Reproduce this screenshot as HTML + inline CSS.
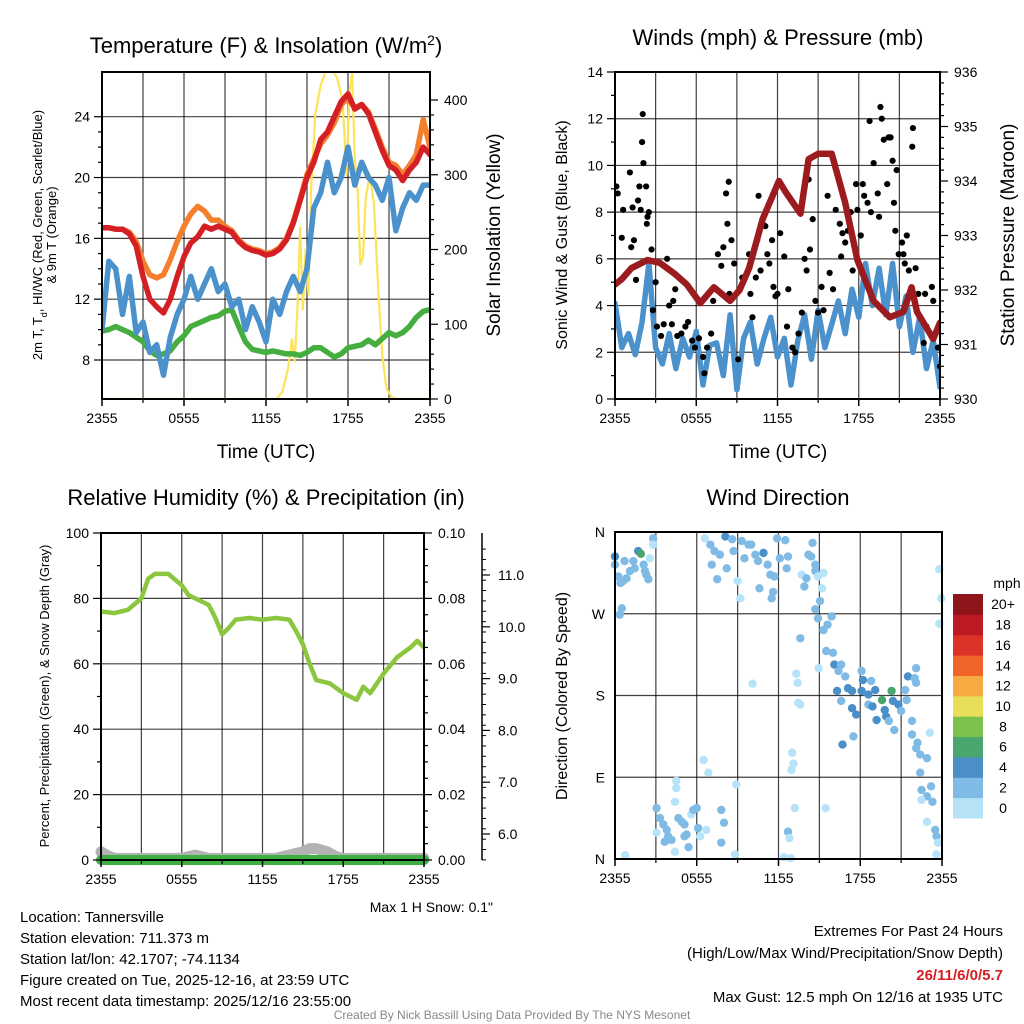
<!DOCTYPE html>
<html><head><meta charset="utf-8"><style>
body{margin:0;background:#fff;}
svg{display:block;font-family:"Liberation Sans",Arial,sans-serif;}
</style></head><body>
<svg id="c" width="1024" height="1024" viewBox="0 0 1024 1024"></svg>
<script>
// ---------- DATA ----------
const halfHours = [0,0.5,1,1.5,2,2.5,3,3.5,4,4.5,5,5.5,6,6.5,7,7.5,8,8.5,9,9.5,10,10.5,11,11.5,12,12.5,13,13.5,14,14.5,15,15.5,16,16.5,17,17.5,18,18.5,19,19.5,20,20.5,21,21.5,22,22.5,23,23.5,24];
const xTickLabels = ["2355","0555","1155","1755","2355"];
const tempRed = [16.7,16.7,16.6,16.6,16.3,15.5,13.5,12,11.5,11.1,12,13.5,14.8,15.7,16.1,16.8,16.6,16.8,16.6,16.4,15.8,15.4,15.2,15.1,14.9,15.0,15.3,15.9,17,18.5,20,21,22.5,23,24,25,25.5,24.5,24.8,24.2,23,21.8,20.8,20.5,19.8,20.5,21,22,21.5];
const temp9m = [16.7,16.7,16.6,16.6,16.4,15.8,14.5,13.6,13.4,13.6,14.6,15.8,16.8,17.6,18.1,17.8,17.2,17.2,16.8,16.5,15.9,15.5,15.3,15.2,15.0,15.1,15.4,16.0,17.1,18.6,20.2,21.2,22.2,22.8,23.6,24.8,25.2,24.6,24.8,24.3,23.2,22.0,21.0,20.8,20.2,20.8,21.5,23.8,22.0];
const feelsBlue = [10,14.5,14,11,13.5,9.8,10.5,8.5,9,7,9.5,11,12,13.5,12,13,14,12.5,13,11.5,12,10,11.5,10.5,9.2,12,11,12.5,13.5,12.5,14,18,19,21,19,20,22,19.5,21,20,19.5,18.5,20,16.5,18,19,18.5,19.5,19.5];
const dewGreen = [9.9,10,10.2,10,9.8,9.5,9.2,8.6,8.3,8.4,8.6,9.2,9.6,10.2,10.4,10.6,10.8,10.9,11.2,11.3,10.2,9.2,8.7,8.6,8.5,8.6,8.5,8.4,8.4,8.3,8.5,8.8,8.8,8.5,8.2,8.4,8.8,8.9,9.0,9.3,9.0,9.4,9.8,9.6,9.8,10.2,10.8,11.2,11.3];
const solarHours = [0,12.8,13.2,13.6,13.9,14.1,14.3,14.5,14.7,14.9,15.1,15.3,15.6,16,16.4,16.8,17.2,17.6,17.9,18.1,18.3,18.5,18.7,18.9,19.1,19.3,19.6,19.9,20.2,20.5,20.8,21.2,21.6,24];
const solarVals = [0,0,10,40,80,50,120,230,120,200,140,280,380,420,440,440,430,400,300,410,435,320,280,180,190,270,300,260,150,60,15,2,0,0];

const windBlue = [4.1,2.2,2.8,1.9,3.3,5.8,2.2,1.5,2.8,1.3,2.6,1.8,2.9,0.6,2.3,2.4,1,3.6,0.4,2.6,3.3,1.5,2.6,3.5,1.8,2.6,0.6,2.5,3.6,1.7,3.8,2.2,3.2,4.2,2.8,4.7,3.5,5.8,4,5.6,3.6,5.8,3.1,4.4,2,3.5,1.3,2.5,0.5];
const presHours = [0,0.5,1.2,2.4,3.3,4.4,5.3,6.3,7.3,8.5,9.2,9.9,10.9,12.1,12.6,13.7,14.3,15.0,16.0,17.0,17.9,19.1,20.3,21.3,21.9,22.3,23.5,24];
const presVals = [932.1,932.2,932.4,932.55,932.5,932.3,932.1,931.76,932.05,931.8,932.0,932.4,933.3,934.0,933.8,933.4,934.4,934.5,934.5,933.6,932.55,931.8,931.5,931.6,932.05,931.6,931.1,931.4];
const gustHours = [0.1,0.2,0.6,0.5,1.1,1.3,1.2,1.4,1.55,1.7,1.8,1.9,2,2.1,2.05,2.3,2.4,2.5,2.35,2.7,3,2.8,3.1,3.4,3.6,3.85,4,4.2,4.45,4.3,4.6,4.9,5.2,5.4,5.7,5.9,6.2,6.5,6.8,7.1,6.6,7.25,7.6,7.85,8,8.2,8.3,8.4,8.6,8.45,8.8,9.1,9.4,9.9,10,10.15,10.4,10.5,10.6,10.75,10.9,11.1,11.25,11.4,11.6,11.7,11.85,12,12.2,12.5,12.7,12.8,13.1,13.3,13.55,13.8,14,14.15,14.3,14.4,14.6,14.8,15,15.25,15.4,15.7,15.85,16.1,16.3,16.6,16.7,16.8,17,17.2,17.4,17.55,17.8,17.9,18.15,18.3,18.4,18.65,18.8,18.9,19.1,19.4,19.5,19.6,19.7,19.85,20.1,20.2,20.35,20.5,20.6,20.7,20.8,20.95,21.2,21.3,21.55,21.4,21.7,22,21.95,22.2,22.4,22.9,23,23.4,23.5,22.8,23.85,24];
const gustVals = [9.1,8.8,8.1,6.9,9.7,8.2,6.5,6.8,5.1,8.5,9.1,8.1,11,10.1,12.2,9.1,7.8,8,7.5,6.4,5,3.8,3.1,2.7,3.2,6,4,3.2,4.7,4.2,2.7,2.8,3.1,3.3,2.5,2.2,2.6,1.8,2.2,2.8,1.1,4.2,6.2,5.7,6.5,8.8,7.5,9.3,6.8,4.5,5.8,1.7,5.2,6.2,4.5,3.5,5.2,6.8,8.7,5.5,7.5,7.4,6.2,5.8,6.8,4.8,4.4,4.5,7.1,6.1,3.1,4.7,2.2,2,2.8,3.7,6,5.5,9.4,6.4,7.7,4.2,3.7,4.8,3.8,8.7,5.4,4.7,8.1,7.5,6.1,7.1,6.7,7.2,8,5.5,9.2,8.1,7,9.2,8.7,8.4,11.9,8,10.1,8.8,7.8,12.5,12,11.1,9.2,11.2,11.2,10.2,8.4,7.2,9.8,6.2,6.7,6.2,7,5.8,5.5,11.6,10.8,5.6,4.5,4.5,3.1,4.8,4.2,2.4,2.2,1.4];

const rhHours = [0,1,2,3,3.5,4,5,6,6.5,7,8,8.5,9,9.5,10,11,12,13,14,14.5,15,15.5,16,17,18,18.5,19,19.5,20,20.5,21,22,23,23.5,24];
const rhVals = [76,75.5,76.5,80,86,87.5,87.5,84,81,80,78,74,69,71,73.5,74,73.5,74,73.5,70,66,60,55,54,51,50,49,53,51,54,57,62,65,67,65];
const snowHours = [0,0.4,1,6,7,8,13,14,15,15.5,16,16.8,17.5,18,24];
const snowVals = [2.5,1.5,0.5,0.5,1.5,0.5,0.5,1.5,2.5,3.5,3.5,2.5,1,0.5,0.5];
const precipHours = [0,24];
const precipVals = [0,0];

const dirHours = [0,0,0.25,0.4,0.6,0.85,1.1,1.35,1.45,1.7,1.9,2.1,2.2,2.3,2.45,2.55,2.8,2.8,0.5,0.35,0.7,
6.6,7,7.3,7.7,8.1,8.6,8.7,8.2,7.5,7.1,9,9.2,9.3,9.5,9.8,10,10.3,10.5,10.6,10.9,11.2,11.4,11.5,11.6,11.7,11.9,12.1,12.5,12.6,12.7,
13.7,13.9,14.05,14.2,14.4,14.5,14.7,14.7,14.9,15.3,15.2,15.05,14.7,14.9,15.3,15.6,15.9,13.6,
15.5,16,16.1,16.4,16.6,16.9,16.3,17.1,17.4,16.6,17.4,17.7,18.1,18.2,18.1,18.6,18.8,19.1,18.6,18.9,19.2,19.6,19.8,19.9,20.3,20.4,20.8,21,21.3,21.4,21.5,22,22.1,22.1,20.5,20.1,17.5,16.7,21.8,21.8,22.2,22.4,22.1,22.9,23.1,22.4,
22.5,22.9,23.2,23.3,22.5,22.9,23.5,23.6,23.7,23.6,23.8,23.95,23.8,
3.05,3.3,3.55,3.8,3.9,3.65,4.15,4.4,3.05,4.5,4.5,4.4,4.65,4.9,5.1,5.25,5.4,5.6,5.75,6,6.1,6.25,6.7,6.5,6.85,7.8,8,7.8,8.8,8.9,0.75,5.1,
10.1,13.3,13.4,13.45,13.6,13,13.1,12.95,13.2,12.7,12.8,12.4,12.9,15.45,14.95];
const dirDeg = [333,324,311,304,306,309,317,328,320,339,336,324,317,313,308,331,353,346,276,269,328,
353,346,339,335,355,352,339,320,308,324,306,287,350,331,346,346,335,328,298,337,324,313,287,294,311,353,331,351,320,333,
313,300,309,335,333,348,324,317,311,315,298,284,275,265,252,258,267,243,
229,227,214,207,214,201,185,188,185,174,166,159,207,197,185,181,196,186,170,168,153,175,164,157,185,174,170,163,186,175,201,199,210,194,142,152,135,126,152,137,128,115,122,111,139,95,
76,69,80,63,65,41,32,25,18,5,319,287,259,
56,45,38,32,25,19,21,8,29,86,78,63,45,41,38,27,13,49,54,56,34,25,32,109,95,54,40,18,5,82,4,25,
193,204,194,172,170,117,105,98,56,30,23,2,1,56,210];
const dirSpeed = [5,3,3,3,3,3,3,3,3,5,7,3,3,3,3,1,3,1,3,3,3,
1,3,3,3,5,3,3,3,3,3,1,1,3,3,3,3,3,3,3,5,3,3,3,3,3,3,3,3,3,3,
1,3,3,3,3,3,3,3,1,1,1,3,3,3,3,3,3,3,
3,3,5,3,3,3,5,5,5,3,5,5,3,5,5,5,3,5,3,5,5,7,5,5,7,5,5,3,3,3,5,3,3,3,3,3,3,5,3,3,3,3,3,3,1,3,
3,3,3,3,1,1,3,3,1,1,1,1,1,
3,3,3,3,3,3,3,1,1,1,1,1,3,3,3,3,3,1,3,3,3,1,1,1,1,3,3,3,1,1,1,3,
1,1,1,1,1,1,1,1,1,3,1,1,1,1,1];
const speedBins = ["0","2","4","6","8","10","12","14","16","18","20+"];
const speedColors = ["#b6e3f8","#80bbe5","#4a8fc7","#4aa66f","#7cc14c","#e7df5a","#f7a942","#f06429","#dd3227","#bd1b23","#8e1519"];

// ---------- DRAWING ----------
const NS="http://www.w3.org/2000/svg";
const svg=document.getElementById('c');
function el(tag,attrs,parent){const e=document.createElementNS(NS,tag);for(const k in attrs)e.setAttribute(k,attrs[k]);(parent||svg).appendChild(e);return e;}
function txt(s,x,y,size,anchor,parent,extra){const t=el('text',Object.assign({x:x,y:y,'font-size':size,'text-anchor':anchor||'middle',fill:'#000'},extra||{}),parent);t.textContent=s;return t;}
function lin(d0,d1,r0,r1){return v=>r0+(v-d0)*(r1-r0)/(d1-d0);}
function line(g,xs,ys,fx,fy,color,w,name){
  const d=xs.map((h,i)=>(i?'L':'M')+fx(h).toFixed(1)+','+fy(ys[i]).toFixed(1)).join('');
  const p=el('path',{d:d,fill:'none',stroke:color,'stroke-width':w,'stroke-linejoin':'round','stroke-linecap':'round'},g);
  
  
  return p;
}
function frame(g,L,T,R,B,fx,vTicks,fy,hTicks){
  vTicks.forEach(h=>el('line',{x1:fx(h),x2:fx(h),y1:T,y2:B,stroke:'#000','stroke-width':1.2,'stroke-opacity':0.75},g));
  hTicks.forEach(v=>el('line',{x1:L,x2:R,y1:fy(v),y2:fy(v),stroke:'#000','stroke-width':1.2,'stroke-opacity':0.75},g));
}
function border(g,L,T,R,B){el('rect',{x:L,y:T,width:R-L,height:B-T,fill:'none',stroke:'#000','stroke-width':2},g);}
function xAxis(g,L,R,B,fx){
  [0,6,12,18,24].forEach((h,i)=>{el('line',{x1:fx(h),x2:fx(h),y1:B,y2:B+7,stroke:'#000','stroke-width':1.5},g);txt(xTickLabels[i],fx(h),B+24,14,'middle',g);});
  [3,9,15,21].forEach(h=>el('line',{x1:fx(h),x2:fx(h),y1:B,y2:B+4,stroke:'#000','stroke-width':1.2},g));
}
function yTicks(g,x,dir,fy,from,to,major,minor,fmt,labelOff,size,anchor){
  for(let v=from;v<=to+1e-9;v+=minor){const isM=Math.abs(((v-from)/major)-Math.round((v-from)/major))<1e-6;
    el('line',{x1:x,x2:x+dir*(isM?8:4),y1:fy(v),y2:fy(v),stroke:'#000','stroke-width':1.2},g);}
  for(let v=from;v<=to+1e-9;v+=major){txt(fmt(v),x+dir*labelOff,fy(v)+5,size||14,anchor,g);}
}

// ===== Panel 1 =====
{
const g=el('g',{});
const L=102,T=72,R=430,B=399;
const fx=lin(0,24,L,R), fy=lin(8,24,360,116.7), fs=lin(0,400,399,100);
frame(g,L,T,R,B,fx,[3,6,9,12,15,18,21],fy,[8,12,16,20,24]);
const cp=el('clipPath',{id:'cp1'});el('rect',{x:L,y:T,width:R-L,height:B-T},cp);
const pg=el('g',{'clip-path':'url(#cp1)'},g);
line(pg,solarHours,solarVals,fx,fs,'#fde357',2.2,'solar-insolation-line');
line(pg,halfHours,dewGreen,fx,fy,'#45ae3f',5.5,'dewpoint-line');
line(pg,halfHours,feelsBlue,fx,fy,'#4b92cc',5.5,'heat-index-windchill-line');
line(pg,halfHours,temp9m,fx,fy,'#f47f2c',5.5,'temp-9m-line');
line(pg,halfHours,tempRed,fx,fy,'#d42024',5.5,'temp-2m-line');
border(g,L,T,R,B);
xAxis(g,L,R,B,fx);
yTicks(g,L,-1,fy,8,24,4,1,v=>String(v),12,14,'end');
yTicks(g,R,1,fs,0,400,100,20,v=>String(v),14,14,'start');
txt('Time (UTC)',266,458,19,'middle',g);
const t1=txt('',266,53,22,'middle',g);t1.innerHTML='Temperature (F) &amp; Insolation (W/m<tspan baseline-shift="super" font-size="14">2</tspan>)';

const yl=el('text',{transform:'translate(42,235) rotate(-90)','font-size':13,'text-anchor':'middle'},g);
yl.innerHTML='2m T, T<tspan baseline-shift="sub" font-size="9">d</tspan>, HI/WC (Red, Green, Scarlet/Blue)';

txt('& 9m T (Orange)',0,0,13,'middle',g,{transform:'translate(56,235) rotate(-90)'});
txt('Solar Insolation (Yellow)',0,0,19,'middle',g,{transform:'translate(500,235) rotate(-90)'});
}

// ===== Panel 2 =====
{
const g=el('g',{});
const L=615,T=72,R=940,B=399;
const fx=lin(0,24,L,R), fy=lin(0,14,399,72), fp=lin(930,936,399,72);
frame(g,L,T,R,B,fx,[3,6,9,12,15,18,21],fy,[2,4,6,8,10,12]);
const cp=el('clipPath',{id:'cp2'});el('rect',{x:L,y:T,width:R-L,height:B-T},cp);
const pg=el('g',{'clip-path':'url(#cp2)'},g);
line(pg,halfHours,windBlue,fx,fy,'#4b92cc',5.5,'sonic-wind-line');
gustHours.forEach((h,i)=>{const c=el('circle',{cx:fx(h),cy:fy(gustVals[i]),r:3.1,fill:'#000'},pg);

});
line(pg,presHours,presVals,fx,fp,'#9b1b1e',6.5,'pressure-line');
border(g,L,T,R,B);
xAxis(g,L,R,B,fx);
yTicks(g,L,-1,fy,0,14,2,1,v=>String(v),12,14,'end');
yTicks(g,R,1,fp,930,936,1,0.2,v=>String(v),14,14,'start');
txt('Time (UTC)',778,458,19,'middle',g);
txt('Winds (mph) & Pressure (mb)',778,45,22,'middle',g);
txt('Sonic Wind & Gust (Blue, Black)',0,0,16,'middle',g,{transform:'translate(567,235) rotate(-90)'});
txt('Station Pressure (Maroon)',0,0,19,'middle',g,{transform:'translate(1014,235) rotate(-90)'});
}

// ===== Panel 3 =====
{
const g=el('g',{});
const L=101,T=533,R=424,B=860;
const fx=lin(0,24,L,R), fy=lin(0,100,860,533), fsn=lin(6,11,834,575), fsd=lin(0,100,860,533);
frame(g,L,T,R,B,fx,[3,6,9,12,15,18,21],fy,[20,40,60,80]);
line(g,snowHours,snowVals,fx,fsd,'#b3b3b3',11,'snow-depth-line');
line(g,precipHours,precipVals,fx,fy,'#3fae43',10,'precipitation-line');
const cp=el('clipPath',{id:'cp3'});el('rect',{x:L,y:T,width:R-L,height:B-T},cp);
const pg=el('g',{'clip-path':'url(#cp3)'},g);
line(pg,rhHours,rhVals,fx,fy,'#8cc63f',4.5,'relative-humidity-line');
border(g,L,T,R,B);
xAxis(g,L,R,B,fx);
yTicks(g,L,-1,fy,0,100,20,10,v=>String(v),12,14,'end');
yTicks(g,R,1,fy,0,100,20,5,v=>(v/1000).toFixed(2),14,14,'start');
el('line',{x1:482,x2:482,y1:533,y2:860,stroke:'#000','stroke-width':1.5},g);
for(let v=5.5;v<=11.51;v+=0.2){el('line',{x1:482,x2:486,y1:fsn(v),y2:fsn(v),stroke:'#000','stroke-width':1},g);}
for(let v=6;v<=11;v+=1){el('line',{x1:482,x2:490,y1:fsn(v),y2:fsn(v),stroke:'#000','stroke-width':1.2},g);txt(v.toFixed(1),498,fsn(v)+5,14,'start',g);}
txt('Relative Humidity (%) & Precipitation (in)',266,505,22,'middle',g);
txt('Percent, Precipitation (Green), & Snow Depth (Gray)',0,0,13,'middle',g,{transform:'translate(49,696) rotate(-90)'});
txt('Max 1 H Snow: 0.1"',493,912,14,'end',g);
}

// ===== Panel 4 =====
{
const g=el('g',{});
const L=615,T=532,R=942,B=859;
const fx=lin(0,24,L,R), fy=lin(0,360,859,532);
frame(g,L,T,R,B,fx,[3,6,9,12,15,18,21],fy,[90,180,270]);
dirHours.forEach((h,i)=>{const s=dirSpeed[i];const bi=Math.min(10,Math.floor(s/2));
const c=el('circle',{cx:fx(h),cy:fy(dirDeg[i]),r:4.2,fill:speedColors[bi]},g);

});
border(g,L,T,R,B);
xAxis(g,L,R,B,fx);
['N','E','S','W','N'].forEach((s,i)=>txt(s,L-10,fy(i*90)+5,14,'end',g));
txt('Wind Direction',778,505,22,'middle',g);
txt('Direction (Colored By Speed)',0,0,16,'middle',g,{transform:'translate(567,696) rotate(-90)'});
const lg=el('g',{},g);
const cbT=594,cbB=818,h=(cbB-cbT)/11;
speedColors.forEach((c,i)=>{el('rect',{x:953,y:cbB-(i+1)*h,width:30,height:h+0.5,fill:c},lg);
txt(speedBins[i],1003,cbB-(i+0.5)*h+5,14,'middle',lg);});
txt('mph',1007,588,14,'middle',lg);
}

// ===== Footer text =====
{
const g=el('g',{});
['Location: Tannersville','Station elevation: 711.373 m','Station lat/lon: 42.1707; -74.1134','Figure created on Tue, 2025-12-16, at 23:59 UTC','Most recent data timestamp: 2025/12/16 23:55:00'].forEach((s,i)=>txt(s,20,922+i*21,15,'start',g));
const r=el('g',{});
txt('Extremes For Past 24 Hours',1003,936,15,'end',r);
txt('(High/Low/Max Wind/Precipitation/Snow Depth)',1003,958,15,'end',r);
txt('26/11/6/0/5.7',1003,980,15,'end',r,{fill:'#d42024','font-weight':'bold'});
txt('Max Gust: 12.5 mph On 12/16 at 1935 UTC',1003,1002,15,'end',r);
txt('Created By Nick Bassill Using Data Provided By The NYS Mesonet',512,1019,12,'middle',null,{fill:'#888'});
}
</script>
</body></html>
